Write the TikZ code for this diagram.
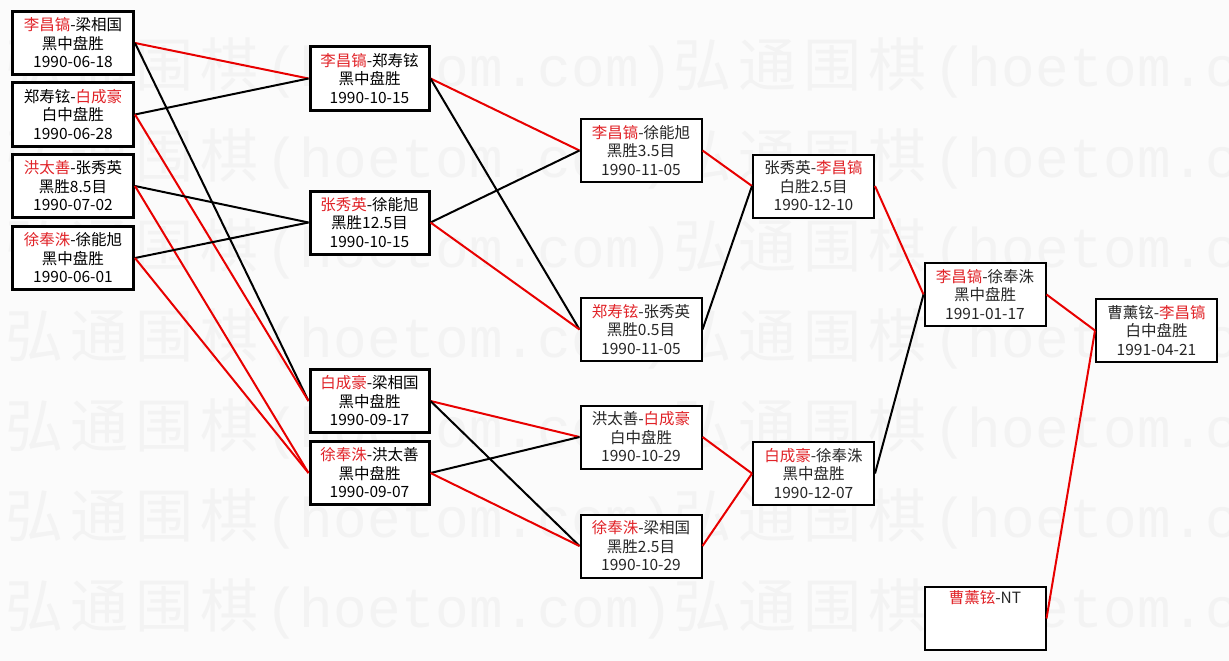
\documentclass[tikz,border=0pt]{standalone}
\usepackage{fontspec}
\setmainfont{Noto Sans CJK SC}
\newfontfamily\wmcjk{Noto Sans CJK SC}
\newfontfamily\wmmono{Liberation Mono}
\definecolor{lnred}{RGB}{232,0,0}
\definecolor{txred}{RGB}{225,35,40}
\definecolor{wm}{RGB}{243,243,243}
\definecolor{bg}{RGB}{251,251,251}
\newcommand{\rd}[1]{\textcolor{txred}{#1}}
\newcommand{\wc}[1]{\makebox[65pt][l]{\wmcjk\fontsize{58}{58}\selectfont #1}}
\newcommand{\wa}[1]{\makebox[34pt][l]{\wmmono\fontsize{56}{56}\selectfont #1}}
\newcommand{\wmline}{\wc{弘}\wc{通}\wc{围}\wc{棋}\wa{(}\wa{h}\wa{o}\wa{e}\wa{t}\wa{o}\wa{m}\wa{.}\wa{c}\wa{o}\wa{m}\wa{)}}
\begin{document}
\begin{tikzpicture}[x=1pt,y=-1pt,
  box/.style={draw=black, fill=white, line width=2pt, align=center, inner sep=0pt,
    font=\fontsize{15.5}{18.5}\selectfont, text=black!85, minimum width=121pt, minimum height=63pt},
  heavy/.style={box, line width=3pt, text=black},
  win/.style={draw=lnred, line width=2pt},
  lose/.style={draw=black, line width=2pt}]
\useasboundingbox (0,0) rectangle (1229,661);
\fill[bg] (0,0) rectangle (1229,661);
% watermark
\begin{scope}
\clip (0,0) rectangle (1229,661);
\foreach \yy/\nm in {67/w1,157/w2,247/w3,337/w4,427/w5,517/w6,607/w7}
  \node[anchor=base west, inner sep=0pt, text=wm] (\nm) at (5,\yy+20) {\wmline\wmline};
\end{scope}
% round 1
\node[heavy] (A) at (73,43) {\rd{李昌镐}-梁相国\\黑中盘胜\\1990-06-18};
\node[heavy] (B) at (73,114.5) {郑寿铉-\rd{白成豪}\\白中盘胜\\1990-06-28};
\node[heavy] (C) at (73,186) {\rd{洪太善}-张秀英\\黑胜8.5目\\1990-07-02};
\node[heavy] (D) at (73,258) {\rd{徐奉洙}-徐能旭\\黑中盘胜\\1990-06-01};
% round 2
\node[heavy, minimum width=119pt] (E) at (369.5,78.5) {\rd{李昌镐}-郑寿铉\\黑中盘胜\\1990-10-15};
\node[heavy, minimum width=119pt] (F) at (369.5,222.5) {\rd{张秀英}-徐能旭\\黑胜12.5目\\1990-10-15};
\node[heavy, minimum width=119pt] (G) at (369.5,401) {\rd{白成豪}-梁相国\\黑中盘胜\\1990-09-17};
\node[heavy, minimum width=119pt] (H) at (369.5,473) {\rd{徐奉洙}-洪太善\\黑中盘胜\\1990-09-07};
% round 3
\node[box] (I) at (641,150.5) {\rd{李昌镐}-徐能旭\\黑胜3.5目\\1990-11-05};
\node[box] (J) at (641,329.5) {\rd{郑寿铉}-张秀英\\黑胜0.5目\\1990-11-05};
\node[box] (K) at (641,437) {洪太善-\rd{白成豪}\\白中盘胜\\1990-10-29};
\node[box] (L) at (641,546) {\rd{徐奉洙}-梁相国\\黑胜2.5目\\1990-10-29};
% round 4
\node[box] (M) at (813.5,186) {张秀英-\rd{李昌镐}\\白胜2.5目\\1990-12-10};
\node[box] (N) at (813.5,473.5) {\rd{白成豪}-徐奉洙\\黑中盘胜\\1990-12-07};
% round 5
\node[box] (O) at (985,294.5) {\rd{李昌镐}-徐奉洙\\黑中盘胜\\1991-01-17};
\node[box] (P) at (985,618.5) {\rd{曹薰铉}-NT\\\strut\\\strut};
% final
\node[box] (Q) at (1156.5,330.5) {曹薰铉-\rd{李昌镐}\\白中盘胜\\1991-04-21};
% connectors round 1 -> 2
\draw[win]  (A.east) -- (E.west);
\draw[lose] (A.east) -- (G.west);
\draw[lose] (B.east) -- (E.west);
\draw[win]  (B.east) -- (G.west);
\draw[lose] (C.east) -- (F.west);
\draw[win]  (C.east) -- (H.west);
\draw[lose] (D.east) -- (F.west);
\draw[win]  (D.east) -- (H.west);
% round 2 -> 3
\draw[win]  (E.east) -- (I.west);
\draw[lose] (E.east) -- (J.west);
\draw[lose] (F.east) -- (I.west);
\draw[win]  (F.east) -- (J.west);
\draw[win]  (G.east) -- (K.west);
\draw[lose] (G.east) -- (L.west);
\draw[lose] (H.east) -- (K.west);
\draw[win]  (H.east) -- (L.west);
% round 3 -> 4
\draw[win]  (I.east) -- (M.west);
\draw[lose] (J.east) -- (M.west);
\draw[win]  (K.east) -- (N.west);
\draw[win]  (L.east) -- (N.west);
% round 4 -> 5
\draw[win]  (M.east) -- (O.west);
\draw[lose] (N.east) -- (O.west);
% round 5 -> final
\draw[win]  (O.east) -- (Q.west);
\draw[win]  (P.east) -- (Q.west);
\end{tikzpicture}
\end{document}
